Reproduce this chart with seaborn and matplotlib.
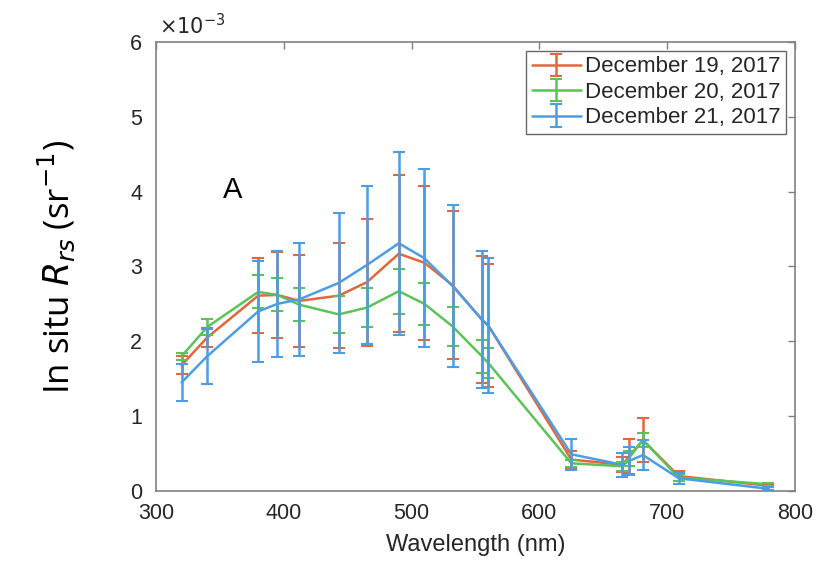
import matplotlib
matplotlib.use("Agg")
import matplotlib.pyplot as plt
import numpy as np
import pandas as pd
import seaborn as sns

# Wavelengths (nm) of the in situ radiometer bands
wavelength = [320, 340, 380, 395, 412, 443, 465, 490, 510, 532, 555, 560,
              625, 665, 670, 681, 709, 779]

# Remote-sensing reflectance (x 1e-3 sr^-1) and standard deviations per day
rrs_dec19 = [1.68, 2.05, 2.61, 2.62, 2.54, 2.61, 2.79, 3.17, 3.05, 2.75, 2.29, 2.21,
             0.42, 0.35, 0.46, 0.68, 0.20, 0.07]
err_dec19 = [0.12, 0.13, 0.50, 0.58, 0.62, 0.70, 0.85, 1.05, 1.03, 0.99, 0.85, 0.82,
             0.12, 0.10, 0.23, 0.29, 0.07, 0.02]

rrs_dec20 = [1.80, 2.19, 2.66, 2.62, 2.49, 2.36, 2.45, 2.67, 2.50, 2.20, 1.80, 1.71,
             0.37, 0.33, 0.44, 0.68, 0.18, 0.09]
err_dec20 = [0.05, 0.11, 0.22, 0.22, 0.22, 0.25, 0.26, 0.30, 0.28, 0.26, 0.22, 0.20,
             0.05, 0.06, 0.10, 0.09, 0.05, 0.02]

rrs_dec21 = [1.45, 1.80, 2.40, 2.50, 2.56, 2.78, 3.02, 3.31, 3.11, 2.74, 2.29, 2.21,
             0.49, 0.35, 0.40, 0.48, 0.17, 0.03]
err_dec21 = [0.25, 0.37, 0.67, 0.71, 0.76, 0.93, 1.05, 1.22, 1.19, 1.08, 0.92, 0.90,
             0.21, 0.16, 0.19, 0.20, 0.07, 0.02]

dates = ["December 19, 2017", "December 20, 2017", "December 21, 2017"]
colors = ["#E2673A", "#5BC457", "#4B9DE6"]

frames = []
for d, r, e in zip(dates, [rrs_dec19, rrs_dec20, rrs_dec21],
                   [err_dec19, err_dec20, err_dec21]):
    frames.append(pd.DataFrame({"wavelength": wavelength, "rrs": r, "err": e, "date": d}))
df = pd.concat(frames, ignore_index=True)

sns.set_theme(style="white")
plt.rcParams["font.family"] = ["Liberation Sans", "DejaVu Sans"]

fig = plt.figure(figsize=(8.36, 5.65), dpi=100)
ax = fig.add_axes([0.1866, 0.1310, 0.9510 - 0.1866, 0.9257 - 0.1310])

sns.lineplot(data=df, x="wavelength", y="rrs", hue="date", palette=colors,
             hue_order=dates, linewidth=1.8, legend=False, ax=ax, sort=True)

handles = []
for i, d in enumerate(dates):
    sub = df[df["date"] == d]
    eb = ax.errorbar(sub["wavelength"], sub["rrs"], yerr=sub["err"], fmt="none",
                     ecolor=colors[i], elinewidth=1.8, capsize=4, capthick=1.5,
                     zorder=3 + i)
    handles.append((ax.lines[i], eb))

ax.set_xlim(300, 800)
ax.set_ylim(0, 6)
ax.set_xticks([300, 400, 500, 600, 700, 800])
ax.set_yticks([0, 1, 2, 3, 4, 5, 6])

for s in ax.spines.values():
    s.set_color("#808080")
    s.set_linewidth(1.2)
ax.tick_params(direction="in", length=5, width=1, color="#808080",
               top=True, right=True, labelsize=15.5, labelcolor="#262626")
ax.tick_params(axis="x", pad=9)
ax.tick_params(axis="y", pad=10)

ax.set_xlabel("Wavelength (nm)", fontsize=17, color="#262626", labelpad=7)
ax.set_ylabel(r"In situ $R_{rs}$ (sr$^{-1}$)", fontsize=25, color="black",
              family=["Open Sans", "DejaVu Sans"], labelpad=38)

ax.text(0.005, 1.008, r"$\times10^{-3}$", transform=ax.transAxes, fontsize=15,
        color="#262626", ha="left", va="bottom")

ax.text(360, 4.02, "A", fontsize=21, color="black", ha="center", va="center")

leg = ax.legend(handles=handles, labels=dates, loc="upper right", fontsize=16,
                frameon=True, fancybox=False, edgecolor="#404040",
                borderaxespad=0.4, handlelength=2.2, handletextpad=0.2,
                borderpad=0.25, labelspacing=0.2)
leg.get_frame().set_linewidth(1.0)

fig.savefig("out.png", dpi=100)
